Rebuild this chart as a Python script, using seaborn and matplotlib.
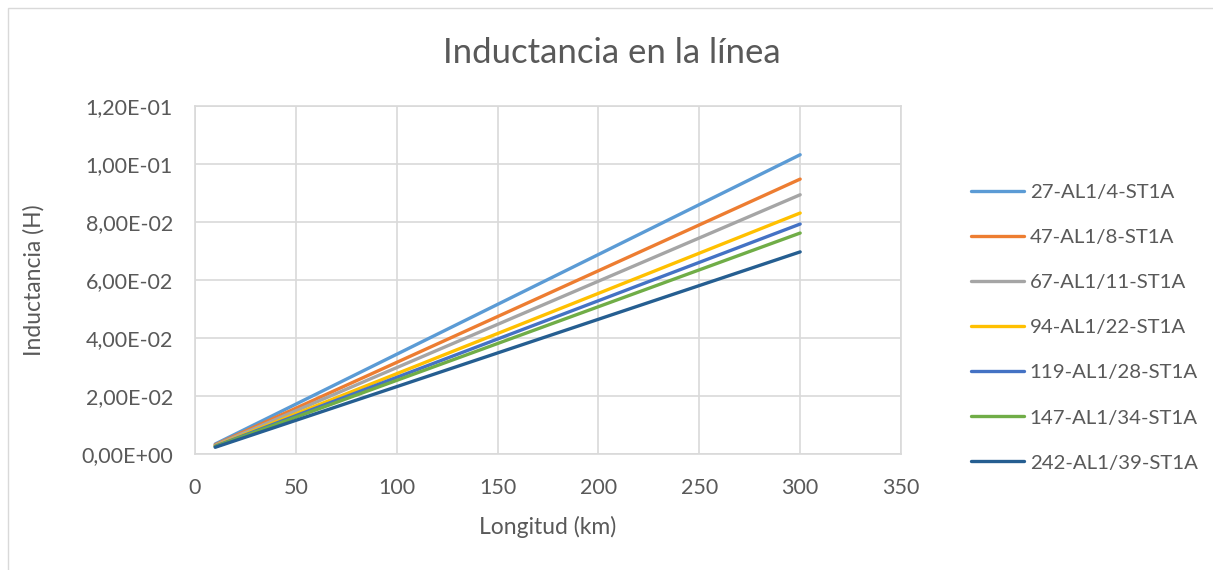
import pandas as pd
import seaborn as sns
import matplotlib.pyplot as plt
from matplotlib.ticker import FuncFormatter, MultipleLocator
from matplotlib.patches import Rectangle

longitud = [10, 300]
conductores = ["27-AL1/4-ST1A", "47-AL1/8-ST1A", "67-AL1/11-ST1A", "94-AL1/22-ST1A",
               "119-AL1/28-ST1A", "147-AL1/34-ST1A", "242-AL1/39-ST1A"]
ind_10km = [0.00344, 0.00316, 0.00298, 0.00277, 0.00264, 0.00254, 0.00232]
ind_300km = [0.1032, 0.0948, 0.0894, 0.0831, 0.0793, 0.0762, 0.0697]
colores = ["#5B9BD5", "#ED7D31", "#A5A5A5", "#FFC000", "#4472C4", "#70AD47", "#255E91"]

rows = []
for name, a, b in zip(conductores, ind_10km, ind_300km):
    rows.append({"Longitud": longitud[0], "Inductancia": a, "Conductor": name})
    rows.append({"Longitud": longitud[1], "Inductancia": b, "Conductor": name})
df = pd.DataFrame(rows)

sns.set_style("white")
plt.rcParams["font.family"] = ["Lato", "DejaVu Sans"]
gris = "#595959"

fig = plt.figure(figsize=(12.13, 5.70), dpi=100)
ax = fig.add_axes([0.1608, 0.2035, 0.582, 0.6105])
sns.lineplot(data=df, x="Longitud", y="Inductancia", hue="Conductor",
             hue_order=conductores, palette=colores, linewidth=2.4, ax=ax)

ax.set_xlim(0, 350)
ax.set_ylim(0, 0.12)
ax.xaxis.set_major_locator(MultipleLocator(50))
ax.yaxis.set_major_locator(MultipleLocator(0.02))
ax.yaxis.set_major_formatter(FuncFormatter(lambda v, p: f"{v:.2E}".replace(".", ",")))
ax.grid(True, color="#D9D9D9", linewidth=1.2)
ax.set_axisbelow(True)
for s in ax.spines.values():
    s.set_color("#D9D9D9")
    s.set_linewidth(1.2)
ax.tick_params(axis="y", length=0, labelsize=15.5, colors=gris, pad=16)
ax.tick_params(axis="x", length=0, labelsize=15.5, colors=gris, pad=17)
ax.set_xlabel("Longitud (km)", fontsize=16.5, color=gris, labelpad=13)
ax.set_ylabel("Inductancia (H)", fontsize=16.5, color=gris, labelpad=26)
fig.suptitle("Inductancia en la línea", fontsize=25, color=gris, x=0.504, y=0.935)

handles, labels = ax.get_legend_handles_labels()
ax.legend(handles, labels, loc="center left", bbox_to_anchor=(0.785, 0.425),
          bbox_transform=fig.transFigure, frameon=False, fontsize=14.7,
          handlelength=2.6, handletextpad=0.3, labelspacing=1.36, labelcolor=gris)

fig.patches.append(Rectangle((0.007, -0.05), 1.2, 1.036, transform=fig.transFigure,
                             fill=False, edgecolor="#D9D9D9", linewidth=1))
fig.savefig("out.png", dpi=100)
